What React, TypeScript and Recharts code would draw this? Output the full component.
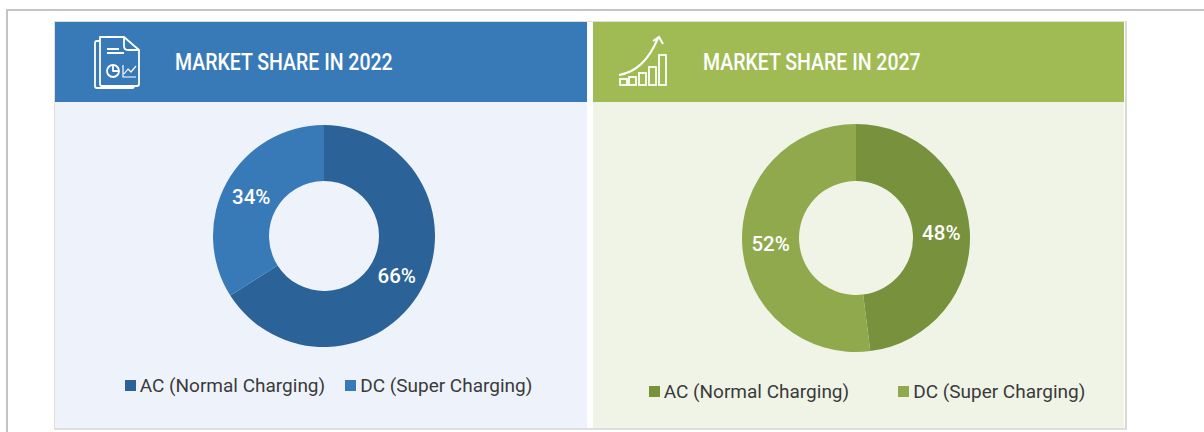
import React from 'react';
import { PieChart, Pie, Cell, Legend } from 'recharts';

const segments = ['AC (Normal Charging)', 'DC (Super Charging)'];
const share2022 = [66, 34];
const share2027 = [48, 52];
const colors2022 = ['#2B6398', '#387AB8'];
const colors2027 = ['#77913D', '#90A94D'];

const RADIAN = Math.PI / 180;

const toRows = (values: number[]) => values.map((value, i) => ({ name: segments[i], value }));

// white percent text in the middle of the ring
const renderLabel = ({ cx, cy, midAngle, innerRadius, outerRadius, value }: any) => {
  const r = (innerRadius + outerRadius) / 2;
  const x = cx + r * Math.cos(-midAngle * RADIAN);
  const y = cy + r * Math.sin(-midAngle * RADIAN);
  return (
    <text x={x} y={y + 0.5} fill="#FFFFFF" textAnchor="middle" dominantBaseline="central"
      fontFamily="Roboto" fontSize={20.5} fontWeight={500}>
      {value}%
    </text>
  );
};

const renderLegend = (colors: string[], gap: number, pad: number) => () => (
  <div style={{ display: 'flex', justifyContent: 'center', gap, paddingLeft: pad }}>
    {segments.map((name, i) => (
      <div key={name} style={{ display: 'flex', alignItems: 'center', gap: 4, fontFamily: 'Roboto', fontSize: 19, color: '#3A3A3A', whiteSpace: 'nowrap' }}>
        <span style={{ width: 11, height: 11, background: colors[i], display: 'inline-block' }} />
        {name}
      </div>
    ))}
  </div>
);

const ReportIcon = () => (
  <svg width={50} height={56} viewBox="0 0 50 56" style={{ position: 'absolute', left: 93, top: 34 }}
    fill="none" stroke="#FFFFFF" strokeWidth={1.8} strokeLinejoin="round">
    <path d="M7 3 H31 L46 16 V50 Q46 52 44 52 H9 Q7 52 7 50 Z" />
    <path d="M31 3 V12 Q31 16 35 16 H46" />
    <path d="M7 7 H4 Q2 7 2 9 V52 Q2 54 4 54 H39 Q41 54 41 52" />
    <path d="M14 15 H26 M14 19 H31" />
    <circle cx={20} cy={37} r={6} />
    <path d="M20 31 V37 H26" />
    <path d="M30 31 V43 H43 M31 40 L35 35 L38 38 L43 32" strokeWidth={1.2} />
  </svg>
);

const GrowthIcon = () => (
  <svg width={52} height={56} viewBox="0 0 52 56" style={{ position: 'absolute', left: 617, top: 34 }}
    fill="none" stroke="#FFFFFF" strokeWidth={1.8}>
    <rect x={3} y={45} width={7} height={6} />
    <rect x={12} y={43} width={7} height={8} />
    <rect x={22} y={39} width={7} height={12} />
    <rect x={32} y={33} width={7} height={18} />
    <rect x={42} y={21} width={7} height={30} />
    <path d="M2 41 C20 38 32 26 41 4 M36 7 L42 3 L46 10" strokeWidth={2} />
  </svg>
);

const Panel = ({ left, width, head, body, title, titleLeft, values, colors, cx, cy, outer, inner, legendTop, gap, pad }: any) => (
  <div style={{ position: 'absolute', left, top: 22, width, height: 406, background: body }}>
    <div style={{ height: 80, background: head }} />
    <div style={{ position: 'absolute', left: titleLeft - left, top: 26, color: '#FFFFFF', fontFamily: 'Roboto', fontSize: 23.5, fontWeight: 500, whiteSpace: 'nowrap', transform: 'scaleX(0.83)', transformOrigin: 'left center' }}>
      {title}
    </div>
    <div style={{ position: 'absolute', left: 0, top: 0 }}>
      <PieChart width={width} height={406} margin={{ top: 0, right: 0, bottom: 0, left: 0 }}>
        <Pie data={toRows(values)} dataKey="value" nameKey="name" cx={cx - left} cy={cy - 22}
          innerRadius={inner} outerRadius={outer} startAngle={90} endAngle={-270}
          stroke="none" label={renderLabel} labelLine={false} isAnimationActive={false}>
          {values.map((_: number, i: number) => <Cell key={i} fill={colors[i]} />)}
        </Pie>
        <Legend content={renderLegend(colors, gap, pad)} wrapperStyle={{ top: legendTop - 22, left: 0, width }} />
      </PieChart>
    </div>
  </div>
);

export default function App() {
  return (
    <div style={{ position: 'absolute', left: 0, top: 0, width: 1204, height: 432, background: '#FFFFFF', overflow: 'hidden' }}>
      <div style={{ position: 'absolute', left: 6, top: 9, width: 1240, height: 460, border: '2px solid #C4C4C4' }} />
      <div style={{ position: 'absolute', left: 54, top: 21, width: 1070, height: 406, border: '1px solid #DEDEDE', borderRight: '2px solid #D8DAD2', borderBottom: '2px solid #DEDEDE' }} />
      <Panel left={55} width={532} head="#387AB8" body="#EEF3FB" title="MARKET SHARE IN 2022" titleLeft={175}
        values={share2022} colors={colors2022} cx={324} cy={236} outer={111} inner={55} legendTop={374} gap={20} pad={15} />
      <Panel left={593} width={531} head="#A0BB54" body="#F0F4E6" title="MARKET SHARE IN 2027" titleLeft={703}
        values={share2027} colors={colors2027} cx={856} cy={238} outer={114} inner={57} legendTop={380} gap={49} pad={17} />
      <ReportIcon />
      <GrowthIcon />
    </div>
  );
}
